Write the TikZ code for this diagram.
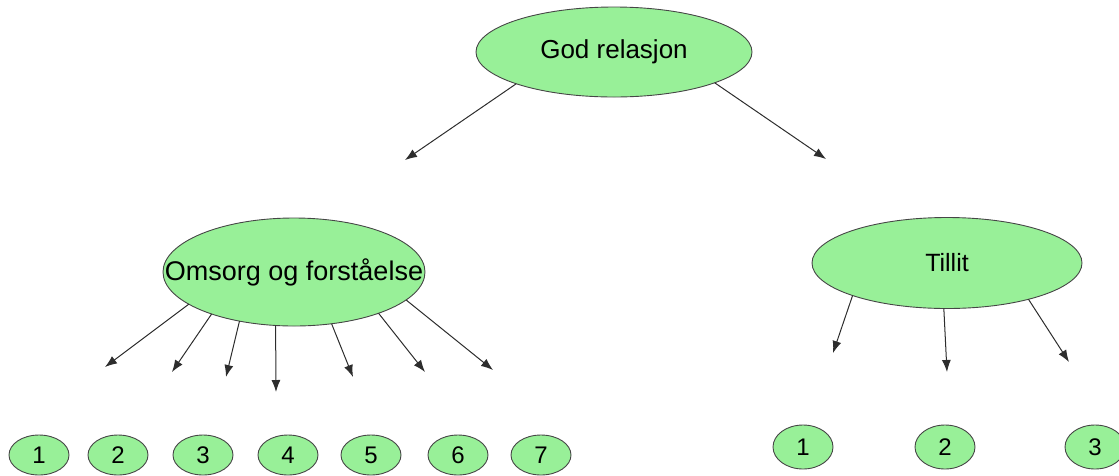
\documentclass[tikz,border=0pt]{standalone}
\usepackage{fontspec}
\setmainfont{Liberation Sans}
\usetikzlibrary{arrows.meta,shapes.geometric}
\definecolor{nodefill}{RGB}{152,240,152}
\definecolor{nodeline}{RGB}{70,70,70}
\definecolor{arrowline}{RGB}{45,45,45}
\tikzset{
  bubble/.style={ellipse, draw=nodeline, fill=nodefill, line width=0.9pt, inner sep=0pt, outer sep=0pt},
  bigbubble/.style={bubble, font=\fontsize{26}{30}\selectfont},
  smallbubble/.style={bubble, minimum width=60pt, minimum height=40pt, font=\fontsize{24}{28}\selectfont},
  link/.style={draw=arrowline, line width=1pt, -{Latex[length=12pt,width=9pt]}}
}
\begin{document}
\begin{tikzpicture}[x=1pt,y=-1pt]
\useasboundingbox (0,0) rectangle (1119,475);
% main nodes
\node[bigbubble, minimum width=276pt, minimum height=90pt] (god) at (614,52) {\makebox[0pt]{God relasjon}};
\node[bigbubble, minimum width=262pt, minimum height=108pt, font=\fontsize{27}{31}\selectfont] (om) at (294,272) {\makebox[0pt]{Omsorg og forståelse}};
\node[bigbubble, minimum width=270pt, minimum height=91pt, font=\fontsize{25}{29}\selectfont] (til) at (947,263) {\makebox[0pt]{Tillit}};
% small nodes left
\node[smallbubble] (a1) at (39,455) {1};
\node[smallbubble] (a2) at (118,455) {2};
\node[smallbubble] (a3) at (203,455) {3};
\node[smallbubble] (a4) at (288,455) {4};
\node[smallbubble] (a5) at (371,455) {5};
\node[smallbubble] (a6) at (458,455) {6};
\node[smallbubble] (a7) at (541,455) {7};
% small nodes right
\node[smallbubble, minimum height=44pt] (b1) at (803,447) {1};
\node[smallbubble, minimum height=44pt] (b2) at (945,447) {2};
\node[smallbubble, minimum height=44pt] (b3) at (1095,447) {3};
% arrow tips
\coordinate (gL) at (405,160);
\coordinate (gR) at (826,159);
\coordinate (o1) at (105,367);
\coordinate (o2) at (172,372);
\coordinate (o3) at (226,377);
\coordinate (o4) at (276,392);
\coordinate (o5) at (353,377);
\coordinate (o6) at (425,372);
\coordinate (o7) at (493,370);
\coordinate (t1) at (833,353);
\coordinate (t2) at (947,372);
\coordinate (t3) at (1069,362);
% connectors
\draw[link] (god.198.4) -- (gL);
\draw[link] (god.343.5) -- (gR);
\draw[link] (om.197.8) -- (o1);
\draw[link] (om.207.4) -- (o2);
\draw[link] (om.222.8) -- (o3);
\draw[link] (om.251.6) -- (o4);
\draw[link] (om.306.9) -- (o5);
\draw[link] (om.334) -- (o6);
\draw[link] (om.346.1) -- (o7);
\draw[link] (til.199) -- (t1);
\draw[link] (til.266) -- (t2);
\draw[link] (til.336.5) -- (t3);
\end{tikzpicture}
\end{document}
